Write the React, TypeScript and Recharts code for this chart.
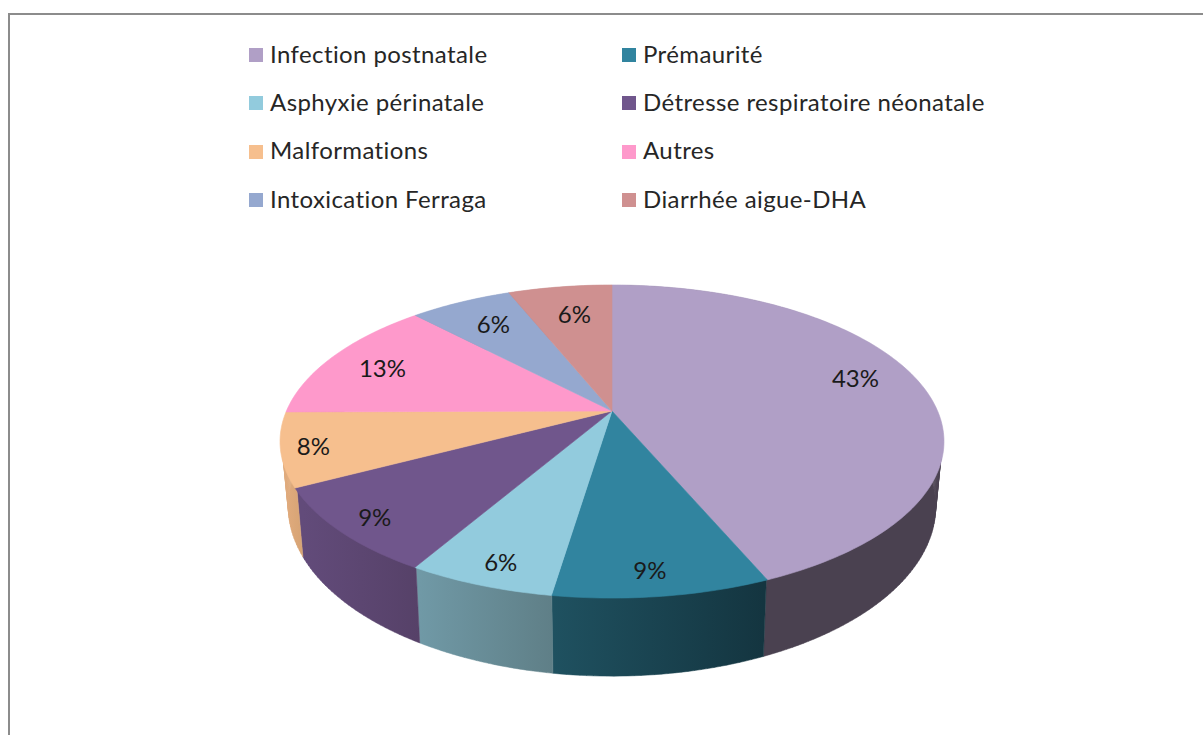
import React from "react";
import { PieChart, Pie, Legend } from "recharts";

const CATEGORIES = [
  "Infection postnatale",
  "Prémaurité",
  "Asphyxie périnatale",
  "Détresse respiratoire néonatale",
  "Malformations",
  "Autres",
  "Intoxication Ferraga",
  "Diarrhée aigue-DHA",
];
// slice sizes as measured on the picture, the printed labels are rounded differently
const VALUES = [43.6, 8.8, 6, 8.9, 7.6, 13, 6, 6.1];
const PERCENT_LABELS = ["43%", "9%", "6%", "9%", "8%", "13%", "6%", "6%"];

const TOP_COLORS = ["#b09fc6", "#31849f", "#92cbdd", "#70568c", "#f6bf8e", "#fe99cb", "#95a8cf", "#cf9090"];
// left and right end of the shading on each side wall
const WALL_LEFT = ["#4a4150", "#1f5160", "#7099a6", "#624b7a", "#dfaa7c", "#c97aa0", "#7786a4", "#a47272"];
const WALL_RIGHT = ["#4a4150", "#143540", "#5f7f87", "#564168", "#d6a374", "#c97aa0", "#7786a4", "#a47272"];
// excel puts its labels by its own rules, so nudge them from the slice middle
const LABEL_NUDGE = [
  [11, -12],
  [2, 27],
  [-17, 27],
  [-41, 19],
  [-53, 6],
  [-17, -2],
  [-1, -3],
  [3, -1],
];

const WIDTH = 1203;
const HEIGHT = 735;
const CX = 612;
const CY = 411;
const FONT = "Lato, sans-serif";

const rows = CATEGORIES.map((name, i) => ({ name, value: VALUES[i], fill: TOP_COLORS[i] }));

// perspective projection of the pie disc, angle in recharts degrees
const project = (deg: number, r = 1) => {
  const a = (deg * Math.PI) / 180;
  const u = r * Math.cos(a);
  const v = -r * Math.sin(a);
  const den = 1 - 0.195 * v;
  return { x: CX + (325.6 * u) / den, y: CY + (150.6 * v) / den };
};

// same point on the lower rim of the disc
const lower = (p: { x: number; y: number }) => ({
  x: CX + (p.x - CX) * 0.975,
  y: 558 + 1.083 * (p.y - 489),
});

const arcPoints = (start: number, end: number, r = 1) => {
  const n = Math.max(2, Math.ceil(Math.abs(end - start)));
  const pts = [];
  for (let i = 0; i <= n; i++) pts.push(project(start + ((end - start) * i) / n, r));
  return pts;
};

const toPath = (pts: { x: number; y: number }[]) =>
  pts.map((p, i) => `${i ? "L" : "M"}${p.x.toFixed(2)} ${p.y.toFixed(2)}`).join(" ");

const TopSlice = (props: any) => {
  const d = `${toPath(arcPoints(props.startAngle, props.endAngle))} L${CX} ${CY} Z`;
  return <path d={d} fill={props.fill} stroke={props.fill} strokeWidth={0.6} strokeLinejoin="round" />;
};

const WallSlice = (props: any) => {
  // upper edge sits a bit inside the rim so no dark line peeks out behind the top
  const top = arcPoints(props.startAngle, props.endAngle, 0.995);
  const bottom = arcPoints(props.startAngle, props.endAngle).map(lower);
  const xs = bottom.map((p) => p.x);
  const id = `wall-${props.index}`;
  // one quad per step, so the silhouette gets the straight tangent at the sides
  const quads = top
    .slice(1)
    .map((p, i) => `${toPath([top[i], p, bottom[i + 1], bottom[i]])} Z`)
    .join(" ");
  return (
    <g>
      <defs>
        <linearGradient id={id} gradientUnits="userSpaceOnUse" x1={Math.min(...xs)} x2={Math.max(...xs)} y1={0} y2={0}>
          <stop offset="0%" stopColor={WALL_LEFT[props.index]} />
          <stop offset="100%" stopColor={WALL_RIGHT[props.index]} />
        </linearGradient>
      </defs>
      <path d={quads} fill={`url(#${id})`} stroke={`url(#${id})`} strokeWidth={0.5} />
    </g>
  );
};

const renderLabel = (props: any) => {
  const p = project(props.midAngle, 0.75);
  const [dx, dy] = LABEL_NUDGE[props.index];
  return (
    <text
      x={p.x + dx}
      y={p.y + dy}
      textAnchor="middle"
      dominantBaseline="central"
      fontFamily={FONT}
      fontSize={24}
      fill="#1a1a1a"
    >
      {PERCENT_LABELS[props.index]}
    </text>
  );
};

const LegendGrid = ({ payload }: any) => {
  // two pies feed the legend, keep one entry per category in reading order
  const items = CATEGORIES.map((name) => (payload || []).find((p: any) => p.value === name)).filter(Boolean);
  return (
    <div
      style={{
        display: "grid",
        gridTemplateColumns: "373px 400px",
        gridAutoRows: "48.3px",
        fontFamily: FONT,
        fontSize: 24,
        color: "#262626",
        letterSpacing: 0.4,
      }}
    >
      {items.map((item: any) => (
        <div key={item.value} style={{ display: "flex", alignItems: "center", whiteSpace: "nowrap" }}>
          <span style={{ width: 14, height: 14, marginRight: 7, background: item.color, flex: "none", position: "relative", top: 1 }} />
          <span style={{ position: "relative", top: -1 }}>{item.value}</span>
        </div>
      ))}
    </div>
  );
};

export default function App() {
  return (
    <div style={{ position: "absolute", left: 0, top: 0, width: WIDTH, height: HEIGHT, overflow: "hidden", background: "#fff" }}>
      <div
        style={{
          position: "absolute",
          left: 8,
          top: 13,
          width: WIDTH,
          height: HEIGHT,
          borderLeft: "2px solid #8c8c8c",
          borderTop: "2px solid #8c8c8c",
        }}
      />
      <PieChart width={WIDTH} height={HEIGHT} margin={{ top: 0, right: 0, bottom: 0, left: 0 }}>
        <Pie
          data={rows}
          dataKey="value"
          nameKey="name"
          cx={CX}
          cy={CY}
          outerRadius={150}
          startAngle={90}
          endAngle={-270}
          stroke="none"
          legendType="none"
          shape={WallSlice}
          isAnimationActive={false}
        />
        <Pie
          data={rows}
          dataKey="value"
          nameKey="name"
          cx={CX}
          cy={CY}
          outerRadius={150}
          startAngle={90}
          endAngle={-270}
          stroke="none"
          shape={TopSlice}
          label={renderLabel}
          labelLine={false}
          isAnimationActive={false}
        />
        <Legend content={<LegendGrid />} wrapperStyle={{ position: "absolute", left: 249, top: 30, width: 800, bottom: "auto" }} />
      </PieChart>
    </div>
  );
}
